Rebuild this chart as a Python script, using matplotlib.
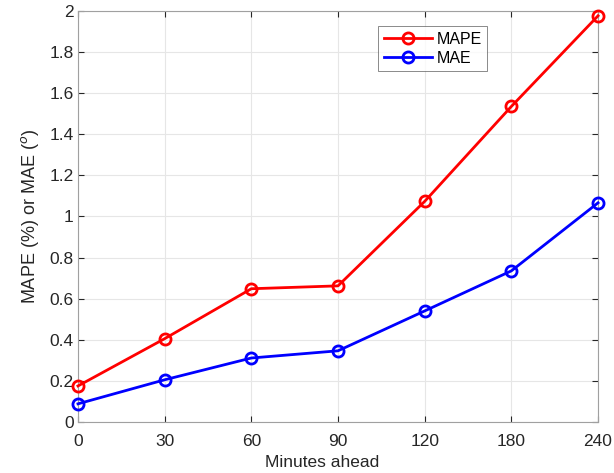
import matplotlib.pyplot as plt

minutes = ['0', '30', '60', '90', '120', '180', '240']
mape = [0.175, 0.405, 0.648, 0.662, 1.073, 1.535, 1.976]
mae = [0.088, 0.205, 0.311, 0.346, 0.540, 0.735, 1.066]

plt.rcParams['font.family'] = ['Liberation Sans', 'DejaVu Sans']

fig = plt.figure(figsize=(6.14, 4.73), dpi=100)
ax = fig.add_axes([0.127, 0.108, 0.847, 0.869])

x = list(range(len(minutes)))
ax.plot(x, mape, '-o', color='red', lw=2, ms=8, mew=2, mfc='none', label='MAPE', clip_on=False, zorder=3)
ax.plot(x, mae, '-o', color='blue', lw=2, ms=8, mew=2, mfc='none', label='MAE', clip_on=False, zorder=3)

ax.set_xlim(0, len(minutes) - 1)
ax.set_ylim(0, 2)
ax.set_xticks(x)
ax.set_xticklabels(minutes)
ax.set_yticks([i / 10 for i in range(0, 21, 2)])
ax.set_yticklabels(['0', '0.2', '0.4', '0.6', '0.8', '1', '1.2', '1.4', '1.6', '1.8', '2'])

ax.grid(True, color='#e6e6e6', lw=0.8)
ax.set_axisbelow(True)
for s in ax.spines.values():
    s.set_color('#a0a0a0')
ax.tick_params(direction='in', colors='#262626', labelsize=12.5, length=4, top=True, right=True)
ax.tick_params(axis='x', pad=9)
ax.tick_params(axis='y', pad=3)

ax.set_xlabel('Minutes ahead', fontsize=12.5, color='#262626', labelpad=4)
ax.xaxis.label.set_x(0.47)
ax.set_ylabel('MAPE (%) or MAE ($^{o}$)', fontsize=13, color='#262626', labelpad=6)

leg = ax.legend(loc='upper left', bbox_to_anchor=(0.577, 0.963), fontsize=11.5, fancybox=False,
                handlelength=3, borderpad=0.35, labelspacing=0.25, handletextpad=0.3,
                borderaxespad=0)
leg.get_frame().set_edgecolor('#555555')
leg.get_frame().set_linewidth(0.6)

fig.savefig('out.png', dpi=100)
